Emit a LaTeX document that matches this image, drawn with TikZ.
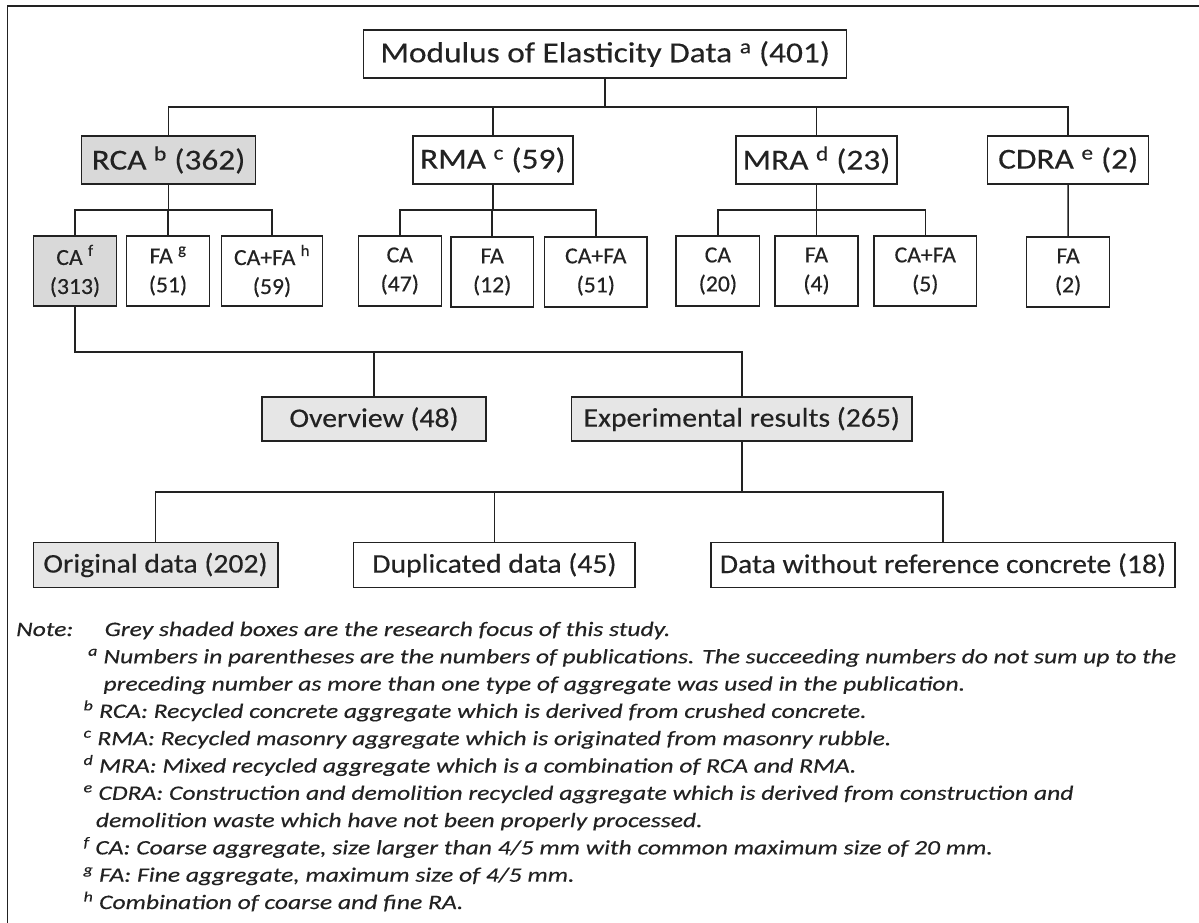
\documentclass[tikz,border=0pt]{standalone}
\usepackage{fontspec}
\setmainfont{Carlito}
\newfontfamily\fTop{Carlito}[FakeStretch=1.15,FakeBold=0.3]
\newfontfamily\fMid{Carlito}[FakeStretch=1.03,FakeBold=0.3]
\newfontfamily\fLow{Carlito}[FakeStretch=1.1,FakeBold=0.3]
\newfontfamily\fNote{Carlito}[FakeStretch=1.25,FakeBold=0.3]
\definecolor{ink}{HTML}{222222}
\definecolor{greyA}{HTML}{D9D9D9}
\definecolor{greyB}{HTML}{E6E6E6}
\begin{document}
\begin{tikzpicture}[x=1pt,y=-1pt,
  box/.style={draw=ink, line width=1.5pt, inner sep=0pt, align=center, text=ink},
  lvl1/.style={box, minimum height=48pt, font=\fTop\fontsize{29}{32}\selectfont},
  lvl2/.style={box, minimum height=70pt, font=\fMid\fontsize{23}{29}\selectfont},
  lvl3/.style={box, minimum height=44pt, font=\fLow\fontsize{27}{30}\selectfont},
  lvl4/.style={box, minimum height=45pt, font=\fLow\fontsize{27}{30}\selectfont},
  dark/.style={fill=greyA},
  light/.style={fill=greyB},
  conn/.style={draw=ink, line width=1.5pt},
  note/.style={inner sep=0pt, anchor=base west, text=ink, font=\fNote\fontsize{20.5}{27}\selectfont\itshape}]
\useasboundingbox (0,0) rectangle (1199,923);
\fill[white] (0,0) rectangle (1199,923);
% frame
\draw[conn] (1199,6) -- (7.5,6) -- (7.5,923);
% level 0/1
\node[lvl1, minimum width=483pt] (top) at (605.2,54) {Modulus of Elasticity Data \textsuperscript{a} (401)};
\node[lvl1, dark, minimum width=174pt] (rca) at (168.5,160) {RCA \textsuperscript{b} (362)};
\node[lvl1, minimum width=160pt] (rma) at (492.8,160) {RMA \textsuperscript{c} (59)};
\node[lvl1, minimum width=161pt] (mra) at (816.5,160) {MRA \textsuperscript{d} (23)};
\node[lvl1, minimum width=161pt] (cdra) at (1068.2,160) {CDRA \textsuperscript{e} (2)};
% level 2
\node[lvl2, dark, minimum width=83.4pt] (caf) at (75,271) {CA \textsuperscript{f}\\(313)};
\node[lvl2, minimum width=82.6pt] (fag) at (168,271) {FA \textsuperscript{g}\\(51)};
\node[lvl2, minimum width=101.3pt] (cafah) at (272,271) {CA+FA \textsuperscript{h}\\(59)};
\node[lvl2, minimum width=83pt] (ca47) at (399.8,271) {CA\\(47)};
\node[lvl2, minimum width=82.5pt] (fa12) at (492.2,272) {FA\\(12)};
\node[lvl2, minimum width=102.4pt] (cafa51) at (595.8,272) {CA+FA\\(51)};
\node[lvl2, minimum width=83.4pt] (ca20) at (717.9,271) {CA\\(20)};
\node[lvl2, minimum width=83pt] (fa4) at (816.5,271) {FA\\(4)};
\node[lvl2, minimum width=102.6pt] (cafa5) at (925.3,271) {CA+FA\\(5)};
\node[lvl2, minimum width=82.8pt] (fa2) at (1068.1,272) {FA\\(2)};
% level 3
\node[lvl3, light, minimum width=224pt] (overview) at (374,419) {Overview (48)};
\node[lvl3, light, minimum width=340.2pt] (exper) at (741.8,419) {Experimental results (265)};
% level 4
\node[lvl4, light, minimum width=244.5pt] (orig) at (155.5,565) {Original data (202)};
\node[lvl4, minimum width=281.6pt] (dup) at (494.4,565) {Duplicated data (45)};
\node[lvl4, minimum width=463.8pt] (dwo) at (942.9,565) {Data without reference concrete (18)};
% buses
\coordinate (b1) at (0,107);
\coordinate (b2) at (0,210);
\coordinate (b3) at (0,352);
\coordinate (b4) at (0,492);
\draw[conn] (top.south) -- (top.south |- b1);
\draw[conn] (rca.north) -- (rca.north |- b1) -- (cdra.north |- b1) -- (cdra.north);
\draw[conn] (rma.north) -- (rma.north |- b1);
\draw[conn] (mra.north) -- (mra.north |- b1);
\draw[conn] (rca.south) -- (rca.south |- b2);
\draw[conn] (caf.north) -- (caf.north |- b2) -- (cafah.north |- b2) -- (cafah.north);
\draw[conn] (fag.north) -- (fag.north |- b2);
\draw[conn] (rma.south) -- (rma.south |- b2);
\draw[conn] (ca47.north) -- (ca47.north |- b2) -- (cafa51.north |- b2) -- (cafa51.north);
\draw[conn] (fa12.north) -- (fa12.north |- b2);
\draw[conn] (mra.south) -- (mra.south |- b2);
\draw[conn] (ca20.north) -- (ca20.north |- b2) -- (cafa5.north |- b2) -- (cafa5.north);
\draw[conn] (fa4.north) -- (fa4.north |- b2);
\draw[conn] (cdra.south) -- (fa2.north);
\draw[conn] (caf.south) -- (caf.south |- b3) -- (exper.north |- b3) -- (exper.north);
\draw[conn] (overview.north) -- (overview.north |- b3);
\draw[conn] (exper.south) -- (exper.south |- b4);
\draw[conn] (orig.north) -- (orig.north |- b4) -- (dwo.north |- b4) -- (dwo.north);
\draw[conn] (dup.north) -- (dup.north |- b4);
% notes
\node[note] (nt0) at (16,636) {Note:};
\node[note] (nt1) at (104.5,636) {Grey shaded boxes are the research focus of this study.};
\node[note] (nta) at (88,663.3) {\hbox to 1088pt{\textsuperscript{a} Numbers in parentheses are the numbers of publications. The succeeding numbers do not sum up to the}};
\node[note] (nta2) at (103.3,690.6) {preceding number as more than one type of aggregate was used in the publication.};
\node[note] (ntb) at (83.4,717.9) {\textsuperscript{b} RCA: Recycled concrete aggregate which is derived from crushed concrete.};
\node[note] (ntc) at (83.4,745.2) {\textsuperscript{c} RMA: Recycled masonry aggregate which is originated from masonry rubble.};
\node[note] (ntd) at (83.4,772.5) {\textsuperscript{d} MRA: Mixed recycled aggregate which is a combination of RCA and RMA.};
\node[note] (nte) at (83.4,799.8) {\hbox to 990pt{\textsuperscript{e} CDRA: Construction and demolition recycled aggregate which is derived from construction and}};
\node[note] (nte2) at (95.7,827.1) {demolition waste which have not been properly processed.};
\node[note] (ntf) at (83.4,854.4) {\textsuperscript{f} CA: Coarse aggregate, size larger than 4/5 mm with common maximum size of 20 mm.};
\node[note] (ntg) at (83.4,881.7) {\textsuperscript{g} FA: Fine aggregate, maximum size of 4/5 mm.};
\node[note] (nth) at (83.4,909) {\textsuperscript{h} Combination of coarse and fine RA.};
\end{tikzpicture}
\end{document}
